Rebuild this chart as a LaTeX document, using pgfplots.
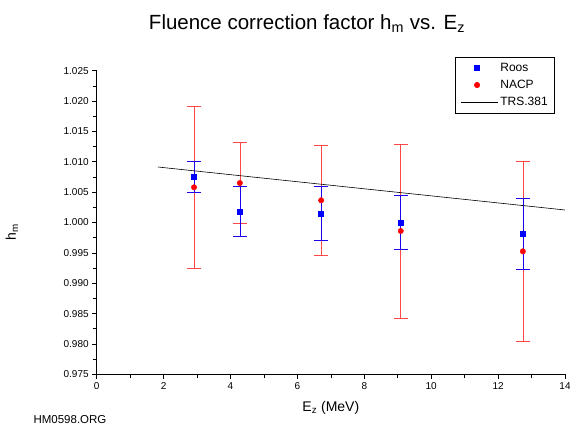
\documentclass[border=0pt]{standalone}
\usepackage{fontspec}
\setmainfont{Liberation Sans}
\usepackage{pgfplots}
\pgfplotsset{compat=1.18}
\definecolor{nacpbar}{RGB}{255,70,70}
\definecolor{roosbar}{RGB}{30,0,240}
\pgfplotsset{
  markleg/.style={legend image code/.code={\draw[##1] plot coordinates {(16pt,0pt)};}},
  lineleg/.style={legend image code/.code={\draw[##1] (0pt,0pt) -- (37pt,0pt);}},
}
\begin{document}
\begin{tikzpicture}
\begin{axis}[
  scale only axis, width=468.3pt, height=303.6pt,
  xmin=0, xmax=14, ymin=0.975, ymax=1.025,
  clip=false,
  axis lines=left, axis line style={-, line width=0.6pt},
  xtick={0,2,4,6,8,10,12,14}, minor xtick={1,3,5,7,9,11,13},
  ytick={0.975,0.980,0.985,0.990,0.995,1.000,1.005,1.010,1.015,1.020,1.025},
  minor ytick={0.9775,0.9825,0.9875,0.9925,0.9975,1.0025,1.0075,1.0125,1.0175,1.0225},
  tick align=outside, major tick length=4.5pt, minor tick length=4pt,
  tick style={black, line width=0.6pt},
  scaled y ticks=false,
  yticklabel style={/pgf/number format/.cd, fixed, fixed zerofill, precision=3},
  /pgf/number format/assume math mode=true,
  ticklabel style={font=\fontsize{10}{12}\selectfont},
  xlabel={E\textsubscript{z} (MeV)},
  ylabel={h\textsubscript{m}},
  label style={font=\fontsize{14}{16}\selectfont},
  xlabel style={at={(axis description cs:0.5,-0.111)}, anchor=center},
  ylabel style={at={(axis description cs:-0.181,0.469)}, anchor=center},
  title={Fluence correction factor h\textsubscript{m} vs. E\textsubscript{z}},
  title style={at={(axis description cs:0.449,1.135)}, anchor=center, font=\fontsize{20.5}{24}\selectfont},
  legend style={at={(axis description cs:0.9787,1.045)}, anchor=north east,
    draw=black, line width=0.6pt, font=\fontsize{12}{14}\selectfont,
    row sep=3pt, inner xsep=5pt, inner ysep=4pt},
  legend cell align=left,
]
% NACP error bars
\addplot[draw=none, mark=none, forget plot,
  error bars/.cd, y dir=both, y explicit, error mark=none,
  error bar style={draw=nacpbar, line width=0.6pt}]
  coordinates {
  (2.91,1.0058) +- (0,0.0134)
  (4.28,1.0065) +- (0,0.0067)
  (6.71,1.00366) +- (0,0.0090)
  (9.09,0.9986) +- (0,0.0143)
  (12.74,0.99525) +- (0,0.0148)
  };
% NACP caps (horizontal error bars at the ends)
\addplot[draw=none, mark=none, forget plot,
  error bars/.cd, x dir=both, x fixed=0.21, error mark=none,
  error bar style={draw=nacpbar, line width=0.6pt}]
  coordinates {(2.91,1.0192) (2.91,0.9924) (4.28,1.0132) (4.28,0.9998)
  (6.71,1.01266) (6.71,0.99466) (9.09,1.0129) (9.09,0.9843)
  (12.74,1.01005) (12.74,0.98045)};
% Roos error bars
\addplot[draw=none, mark=none, forget plot,
  error bars/.cd, y dir=both, y explicit, error mark=none,
  error bar style={draw=roosbar, line width=0.6pt}]
  coordinates {
  (2.91,1.00754) +- (0,0.0025)
  (4.28,1.00184) +- (0,0.0041)
  (6.71,1.00151) +- (0,0.0045)
  (9.09,1.00003) +- (0,0.0045)
  (12.74,0.99816) +- (0,0.0058)
  };
% Roos caps
\addplot[draw=none, mark=none, forget plot,
  error bars/.cd, x dir=both, x fixed=0.21, error mark=none,
  error bar style={draw=roosbar, line width=0.6pt}]
  coordinates {(2.91,1.01004) (2.91,1.00504) (4.28,1.00594) (4.28,0.99774)
  (6.71,1.00601) (6.71,0.99701) (9.09,1.00453) (9.09,0.99553)
  (12.74,1.00396) (12.74,0.99236)};
\addplot[only marks, mark=square*, mark size=2.5pt, blue, mark options={draw=blue, fill=blue}, markleg]
  coordinates {(2.91,1.00754) (4.28,1.00184) (6.71,1.00151) (9.09,1.00003) (12.74,0.99816)};
\addlegendentry{Roos}
\addplot[only marks, mark=*, mark size=2.7pt, red, mark options={draw=red, fill=red}, markleg]
  coordinates {(2.91,1.0058) (4.28,1.0065) (6.71,1.00366) (9.09,0.9986) (12.74,0.99525)};
\addlegendentry{NACP}
\addplot[black, line width=0.6pt, mark=none, lineleg]
  coordinates {(1.83,1.00914) (14,1.00206)};
\addlegendentry{TRS.381}
\node[anchor=west, font=\fontsize{11.5}{13}\selectfont] at (axis description cs:-0.1424,-0.1505) {HM0598.ORG};
\end{axis}
\pgfresetboundingbox
\path[use as bounding box] ([xshift=-96.7pt,yshift=-53.7pt]current axis.south west) rectangle ([xshift=5pt,yshift=70.7pt]current axis.north east);
\end{tikzpicture}
\end{document}
